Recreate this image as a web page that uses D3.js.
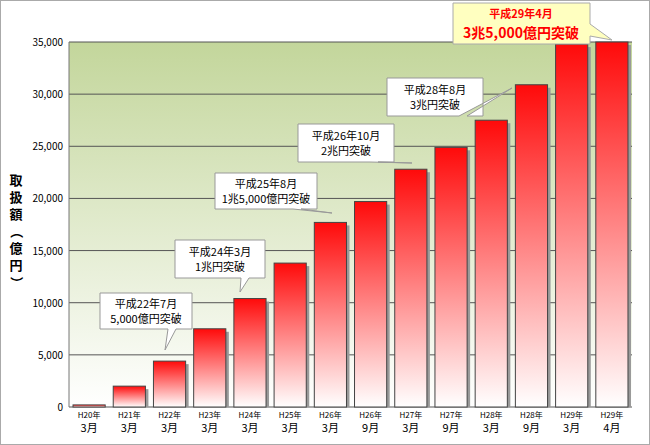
<!DOCTYPE html><html><head><meta charset="utf-8"><script src="https://cdn.jsdelivr.net/npm/d3@7"></script>
<style>body{margin:0;background:#fff}text{font-family:"Noto Sans CJK JP",sans-serif}</style></head><body><svg id="c" width="650" height="445"></svg><script>
const years=["H20年","H21年","H22年","H23年","H24年","H25年","H26年","H26年","H27年","H27年","H28年","H28年","H29年","H29年"];
const months=["3月","3月","3月","3月","3月","3月","3月","9月","3月","9月","3月","9月","3月","4月"];
const values=[200,2000,4400,7500,10400,13800,17700,19700,22800,24900,27500,30900,34800,35000];
const yTicks=[0,5000,10000,15000,20000,25000,30000,35000];
const notes=[{l:["平成22年7月","5,000億円突破"],x:100,y:293,w:92,h:36,px:165,py:350},
{l:["平成24年3月","1兆円突破"],x:175,y:240,w:90,h:38,px:240,py:292},
{l:["平成25年8月","1兆5,000億円突破"],x:215,y:173,w:102,h:36,px:332,py:213},
{l:["平成26年10月","2兆円突破"],x:298,y:124,w:96,h:38,px:412,py:163},
{l:["平成28年8月","3兆円突破"],x:387,y:78,w:96,h:38,px:512,py:88}];
const svg=d3.select("#c");
svg.append("rect").attr("x",0.5).attr("y",0.5).attr("width",649).attr("height",444).attr("fill","#fff").attr("stroke","#aaa");
const defs=svg.append("defs");
const bg=defs.append("linearGradient").attr("id","bg").attr("x1",0).attr("y1",0).attr("x2",0).attr("y2",1);
bg.append("stop").attr("offset",0).attr("stop-color","#c3d69b");bg.append("stop").attr("offset",1).attr("stop-color","#ffffff");
const rg=defs.append("linearGradient").attr("id","rg").attr("x1",0).attr("y1",0).attr("x2",0).attr("y2",1);
rg.append("stop").attr("offset",0).attr("stop-color","#ff0a0a");rg.append("stop").attr("offset",0.35).attr("stop-color","#ff6060");rg.append("stop").attr("offset",1).attr("stop-color","#ffffff");
const L=69,R=632,T=42,B=407;
const x=d3.scaleBand().domain(d3.range(14)).range([L,R]).paddingInner(0.2).paddingOuter(0.1);
const y=d3.scaleLinear().domain([0,35000]).range([B,T]);
svg.append("rect").attr("x",L).attr("y",T).attr("width",R-L).attr("height",B-T).attr("fill","url(#bg)");
svg.selectAll(".g").data(yTicks).join("line").attr("x1",L).attr("x2",R).attr("y1",d=>y(d)).attr("y2",d=>y(d)).attr("stroke","#555").attr("stroke-width",1);
svg.selectAll(".yt").data(yTicks).join("text").attr("x",L-6).attr("y",d=>y(d)+4).attr("text-anchor","end").attr("font-size",10).text(d3.format(","));
svg.append("line").attr("x1",L).attr("x2",L).attr("y1",T).attr("y2",B).attr("stroke","#777");
svg.selectAll(".sh").data(values).join("rect").attr("x",(d,i)=>x(i)+3).attr("y",d=>y(d)+3).attr("width",x.bandwidth()).attr("height",d=>B-y(d)-3).attr("fill","#999");
svg.selectAll(".b").data(values).join("rect").attr("x",(d,i)=>x(i)).attr("y",d=>y(d)).attr("width",x.bandwidth()).attr("height",d=>B-y(d)).attr("fill","url(#rg)").attr("stroke","#444").attr("stroke-width",1);
svg.selectAll(".xy").data(years).join("text").attr("x",(d,i)=>x(i)+x.bandwidth()/2).attr("y",418).attr("text-anchor","middle").attr("font-size",8).text(d=>d);
svg.selectAll(".xm").data(months).join("text").attr("x",(d,i)=>x(i)+x.bandwidth()/2).attr("y",432).attr("text-anchor","middle").attr("font-size",11).text(d=>d);
const yl="取扱額（億円）".split("");
svg.selectAll(".yl").data(yl).join("text").attr("x",16).attr("y",(d,i)=>185+i*17).attr("text-anchor","middle").attr("font-size",13).attr("font-weight","bold").attr("transform",(d,i)=>(d=="（"||d=="）")?`rotate(90,16,${181+i*17})`:null).text(d=>d);
function callout(n,fill,stroke,color,fs){
 const g=svg.append("g");
 const cx=n.x+n.w/2, by=n.y+n.h;
 const tx0=n.px>cx?n.x+n.w-24:n.x+22;
 g.append("path").attr("d",`M${n.x},${n.y}H${n.x+n.w}V${by}H${tx0+8}L${n.px},${n.py}L${tx0},${by}H${n.x}Z`).attr("fill",fill).attr("stroke",stroke);
 g.append("text").attr("x",cx).attr("y",n.y+n.h/2-3).attr("text-anchor","middle").attr("font-size",fs).attr("fill",color).text(n.l[0]);
 g.append("text").attr("x",cx).attr("y",n.y+n.h/2+12).attr("text-anchor","middle").attr("font-size",fs).attr("fill",color).text(n.l[1]);
}
notes.forEach(n=>callout(n,"#fff","#999","#000",11));
const g=svg.append("g");
g.append("path").attr("d",`M453,3H590V24L612,40L590,36V44H453Z`).attr("fill","#ffffc0").attr("stroke","#aaa");
g.append("text").attr("x",521).attr("y",18).attr("text-anchor","middle").attr("font-size",11).attr("fill","#f00").attr("font-weight","bold").text("平成29年4月");
g.append("text").attr("x",521).attr("y",38).attr("text-anchor","middle").attr("font-size",14).attr("fill","#f00").attr("font-weight","bold").text("3兆5,000億円突破");
</script></body></html>
